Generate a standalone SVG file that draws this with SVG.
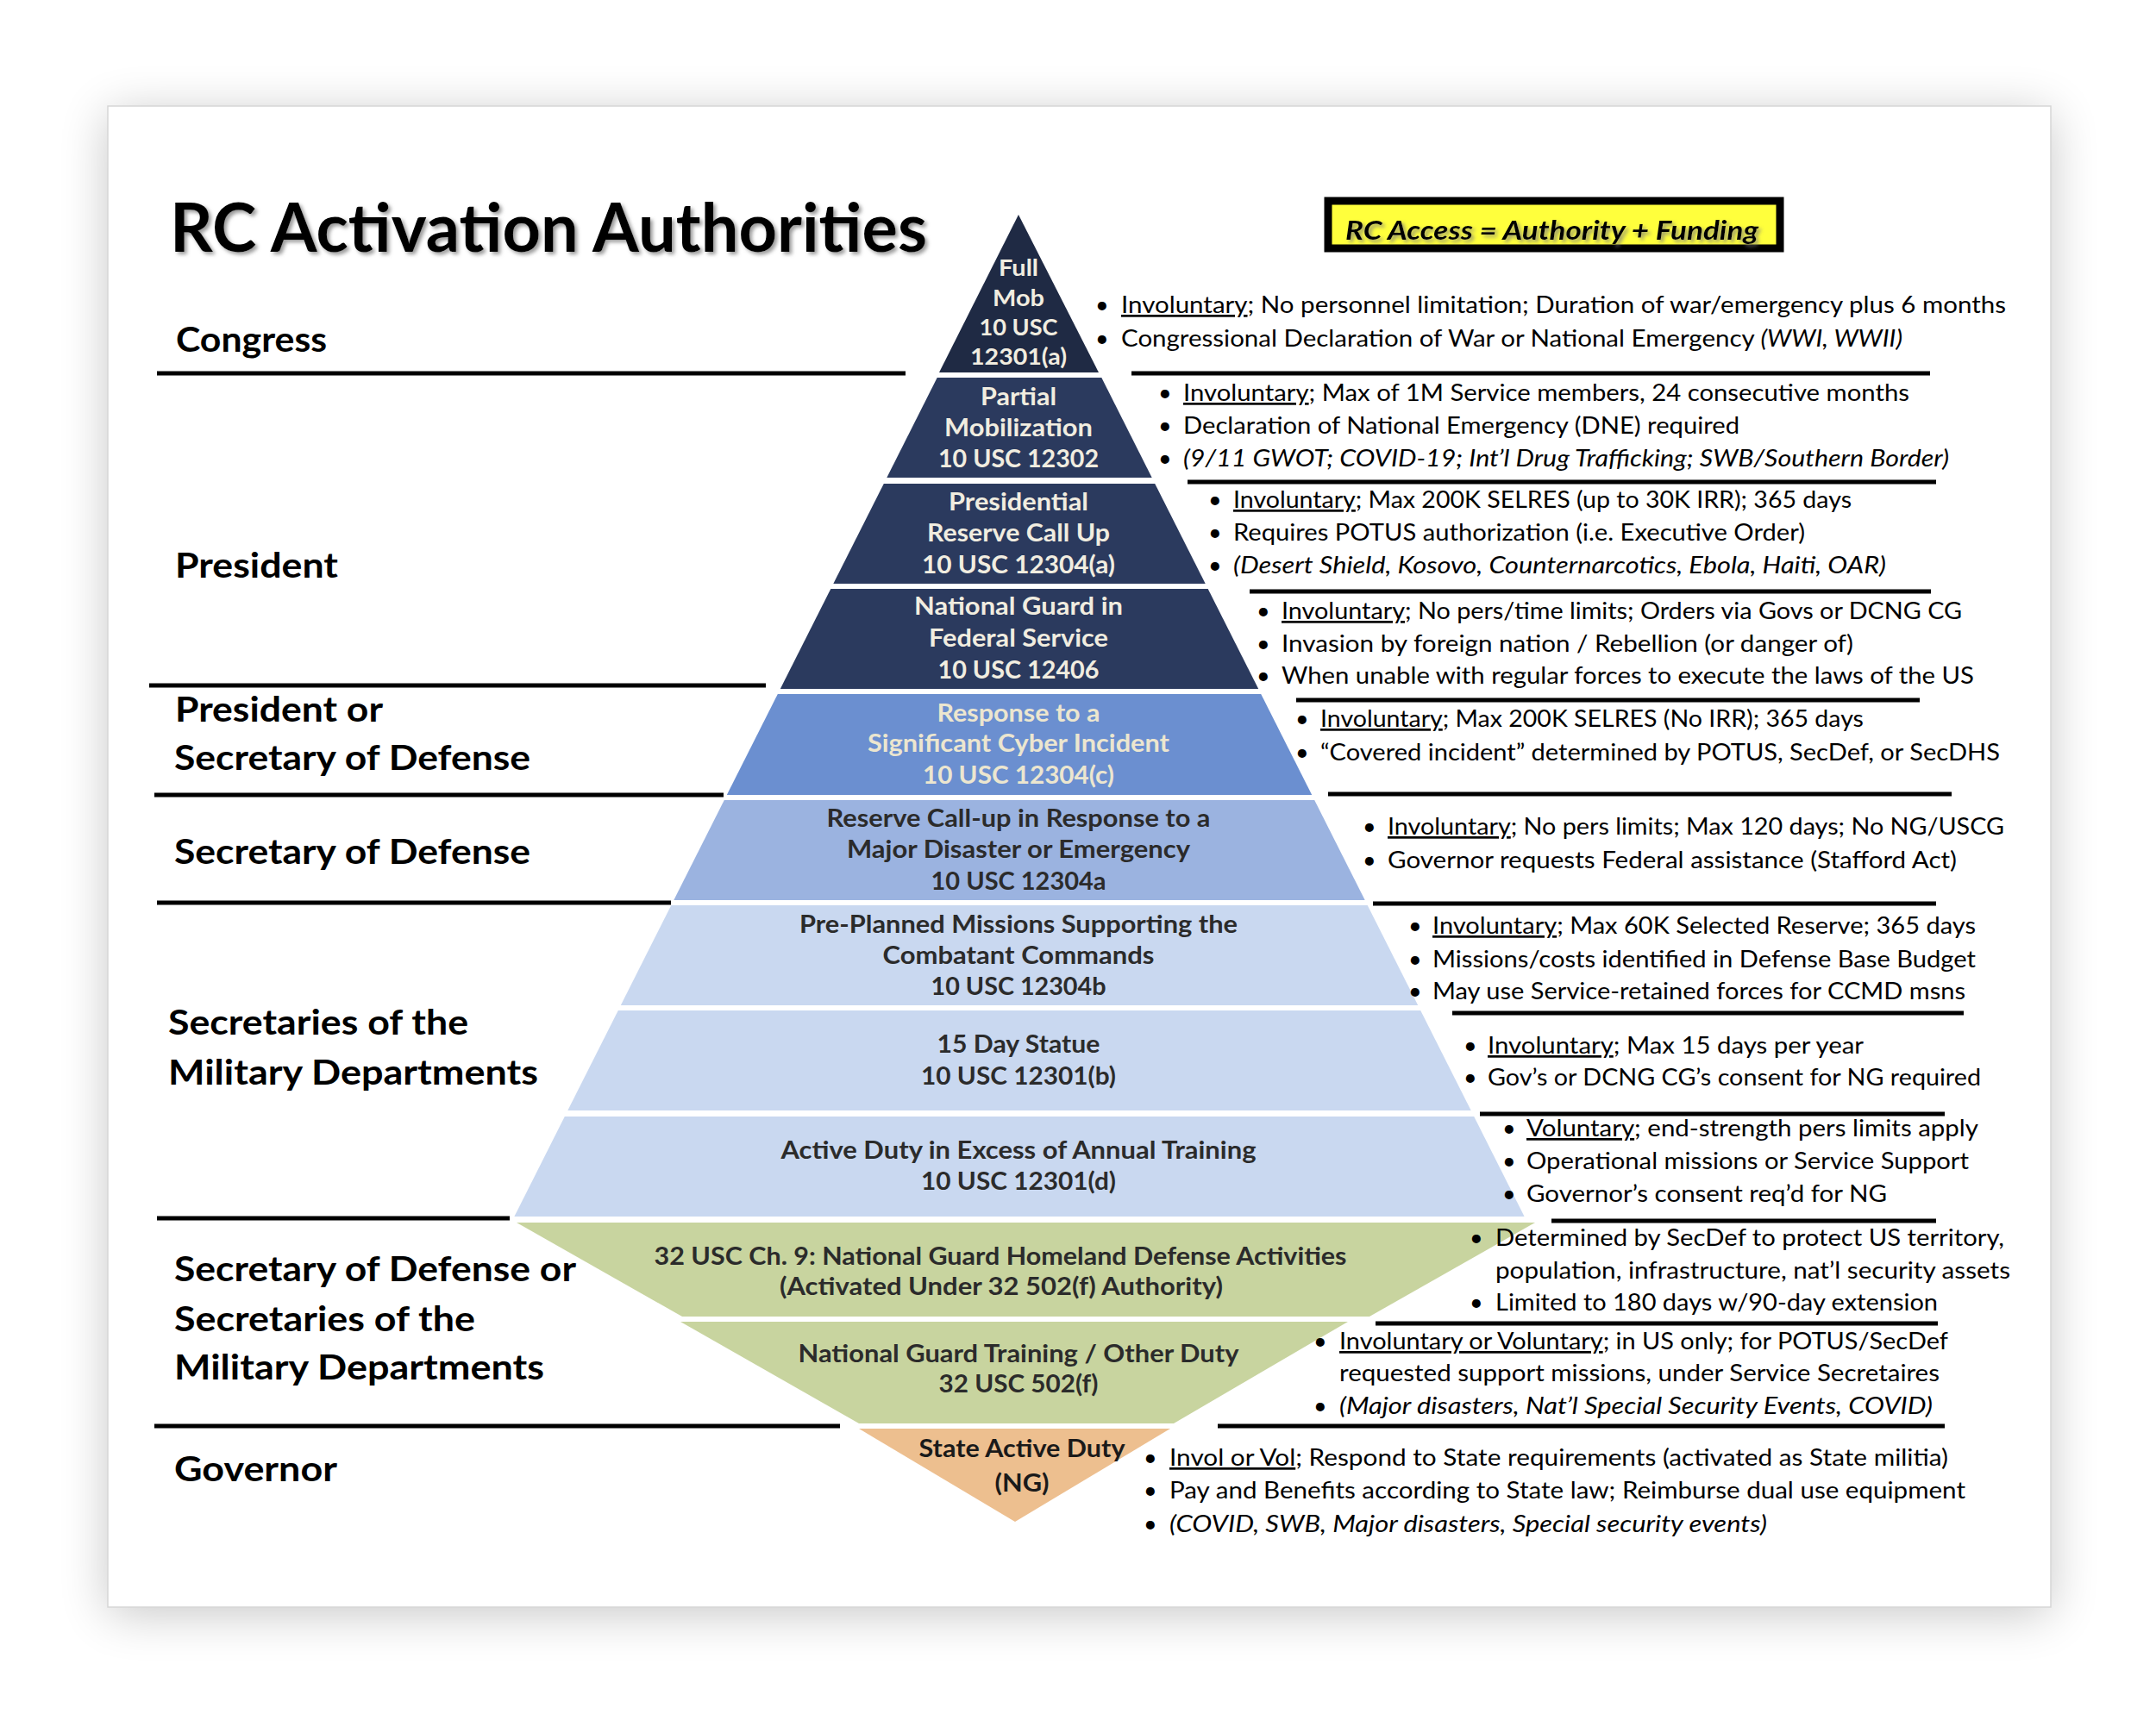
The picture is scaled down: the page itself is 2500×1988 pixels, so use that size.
<svg xmlns="http://www.w3.org/2000/svg" width="2500" height="1988" viewBox="0 0 2500 1988">
<defs>
<filter id="cardShadow" x="-10%" y="-10%" width="120%" height="120%">
<feGaussianBlur stdDeviation="28"/>
</filter>
<filter id="txtShadow" x="-5%" y="-20%" width="110%" height="140%">
<feDropShadow dx="3" dy="3" stdDeviation="2" flood-color="#7a7a7a" flood-opacity="0.75"/>
</filter>
<style>
.lbl{font-family:Lato,"Open Sans","Liberation Sans",sans-serif;font-weight:700;font-size:40px;fill:#000}
.tier{font-family:Lato,"Open Sans","Liberation Sans",sans-serif;font-weight:700;font-size:28px;text-anchor:middle}
.lt{fill:#f1ede0}
.dk{fill:#2b2b2b}
.note{font-family:Lato,"Open Sans","Liberation Sans",sans-serif;font-size:27px;fill:#000}
.bul{font-family:Lato,"Liberation Sans",sans-serif;font-size:27px;fill:#000}
.u{text-decoration:underline}
.i{font-style:italic}
.rule{stroke:#000;stroke-width:5;fill:none}
</style>
</defs>
<rect x="0" y="0" width="2500" height="1988" fill="#ffffff"/>
<rect x="125" y="131" width="2253" height="1741" fill="#000" opacity="0.22" filter="url(#cardShadow)"/>
<rect x="125" y="123" width="2253" height="1741" fill="#ffffff" stroke="#d6d6d6" stroke-width="1.5"/>

<g id="title">
<text x="197" y="292" textLength="878" lengthAdjust="spacingAndGlyphs" filter="url(#txtShadow)" style="font-family:Lato,'Open Sans','Liberation Sans',sans-serif;font-weight:700;font-size:78px;fill:#000">RC Activation Authorities</text>
</g>

<g id="access-box">
<rect x="1540" y="233" width="524" height="55" fill="#ffff3c" stroke="#000" stroke-width="9"/>
<text x="1560" y="278" textLength="479" lengthAdjust="spacingAndGlyphs" filter="url(#txtShadow)" style="font-family:Lato,'Open Sans','Liberation Sans',sans-serif;font-weight:700;font-style:italic;font-size:30px;fill:#000">RC Access = Authority + Funding</text>
</g>

<g id="authority-labels">
<text class="lbl" x="204" y="408" textLength="175" lengthAdjust="spacingAndGlyphs">Congress</text>
<text class="lbl" x="203" y="670" textLength="189" lengthAdjust="spacingAndGlyphs">President</text>
<text class="lbl" x="203" y="837" textLength="241" lengthAdjust="spacingAndGlyphs">President or</text>
<text class="lbl" x="202" y="893" textLength="413" lengthAdjust="spacingAndGlyphs">Secretary of Defense</text>
<text class="lbl" x="202" y="1002" textLength="413" lengthAdjust="spacingAndGlyphs">Secretary of Defense</text>
<text class="lbl" x="195" y="1200" textLength="348" lengthAdjust="spacingAndGlyphs">Secretaries of the</text>
<text class="lbl" x="195" y="1258" textLength="429" lengthAdjust="spacingAndGlyphs">Military Departments</text>
<text class="lbl" x="202" y="1486" textLength="466" lengthAdjust="spacingAndGlyphs">Secretary of Defense or</text>
<text class="lbl" x="202" y="1544" textLength="349" lengthAdjust="spacingAndGlyphs">Secretaries of the</text>
<text class="lbl" x="202" y="1600" textLength="429" lengthAdjust="spacingAndGlyphs">Military Departments</text>
<text class="lbl" x="202" y="1718" textLength="189" lengthAdjust="spacingAndGlyphs">Governor</text>
</g>

<g id="connectors">
<line class="rule" x1="182" y1="433" x2="1050" y2="433"/>
<line class="rule" x1="173" y1="795" x2="888" y2="795"/>
<line class="rule" x1="179" y1="922" x2="839" y2="922"/>
<line class="rule" x1="182" y1="1047" x2="778" y2="1047"/>
<line class="rule" x1="182" y1="1413" x2="591" y2="1413"/>
<line class="rule" x1="179" y1="1654" x2="974" y2="1654"/>
<line class="rule" x1="1312" y1="433" x2="2238" y2="433"/>
<line class="rule" x1="1377" y1="559" x2="2245" y2="559"/>
<line class="rule" x1="1449" y1="686" x2="2239" y2="686"/>
<line class="rule" x1="1503" y1="812" x2="2226" y2="812"/>
<line class="rule" x1="1540" y1="921" x2="2263" y2="921"/>
<line class="rule" x1="1592" y1="1048" x2="2245" y2="1048"/>
<line class="rule" x1="1684" y1="1175" x2="2277" y2="1175"/>
<line class="rule" x1="1716" y1="1292" x2="2255" y2="1292"/>
<line class="rule" x1="1799" y1="1416" x2="2245" y2="1416"/>
<line class="rule" x1="1595" y1="1535" x2="2247" y2="1535"/>
<line class="rule" x1="1412" y1="1654" x2="2255" y2="1654"/>
</g>

<g id="tier-full-mob">
<polygon points="1181,249 1274,432 1089,432" fill="#1f2a44"/>
<text class="tier lt" x="1181" y="320" style="font-size:26px" textLength="46" lengthAdjust="spacingAndGlyphs">Full</text>
<text class="tier lt" x="1181" y="355" style="font-size:26px" textLength="60" lengthAdjust="spacingAndGlyphs">Mob</text>
<text class="tier lt" x="1181" y="389" style="font-size:26px" textLength="91" lengthAdjust="spacingAndGlyphs">10 USC</text>
<text class="tier lt" x="1181" y="423" style="font-size:26px" textLength="112" lengthAdjust="spacingAndGlyphs">12301(a)</text>
</g>
<g id="tier-partial">
<polygon points="1086.7,438 1277.3,438 1335.7,554 1028.3,554" fill="#2b3a5e"/>
<text class="tier lt" x="1181" y="470" textLength="88" lengthAdjust="spacingAndGlyphs">Partial</text>
<text class="tier lt" x="1181" y="506" textLength="172" lengthAdjust="spacingAndGlyphs">Mobilization</text>
<text class="tier lt" x="1181" y="542" textLength="186" lengthAdjust="spacingAndGlyphs">10 USC 12302</text>
</g>
<g id="tier-presidential">
<polygon points="1024.8,561 1339.2,561 1397.7,677 966.3,677" fill="#2b3a5e"/>
<text class="tier lt" x="1181" y="592" textLength="162" lengthAdjust="spacingAndGlyphs">Presidential</text>
<text class="tier lt" x="1181" y="628" textLength="212" lengthAdjust="spacingAndGlyphs">Reserve Call Up</text>
<text class="tier lt" x="1181" y="665" textLength="224" lengthAdjust="spacingAndGlyphs">10 USC 12304(a)</text>
</g>
<g id="tier-ng-federal">
<polygon points="963.3,683 1400.7,683 1459.2,799 904.8,799" fill="#2b3a5e"/>
<text class="tier lt" x="1181" y="713" textLength="242" lengthAdjust="spacingAndGlyphs">National Guard in</text>
<text class="tier lt" x="1181" y="750" textLength="208" lengthAdjust="spacingAndGlyphs">Federal Service</text>
<text class="tier lt" x="1181" y="787" textLength="187" lengthAdjust="spacingAndGlyphs">10 USC 12406</text>
</g>
<g id="tier-cyber">
<polygon points="901.8,805 1462.2,805 1521.2,922 842.8,922" fill="#6b8fd0"/>
<text class="tier" x="1181" y="837" fill="#ece6cf" textLength="189" lengthAdjust="spacingAndGlyphs">Response to a</text>
<text class="tier" x="1181" y="872" fill="#ece6cf" textLength="350" lengthAdjust="spacingAndGlyphs">Significant Cyber Incident</text>
<text class="tier" x="1181" y="909" fill="#ece6cf" textLength="222" lengthAdjust="spacingAndGlyphs">10 USC 12304(c)</text>
</g>
<g id="tier-disaster">
<polygon points="839.8,928 1524.2,928 1582.7,1044 781.3,1044" fill="#9bb3e0"/>
<text class="tier dk" x="1181" y="959" textLength="445" lengthAdjust="spacingAndGlyphs">Reserve Call-up in Response to a</text>
<text class="tier dk" x="1181" y="995" textLength="398" lengthAdjust="spacingAndGlyphs">Major Disaster or Emergency</text>
<text class="tier dk" x="1181" y="1032" textLength="203" lengthAdjust="spacingAndGlyphs">10 USC 12304a</text>
</g>
<g id="tier-preplanned">
<polygon points="778.3,1050 1585.7,1050 1644.2,1166 719.8,1166" fill="#c9d8f0"/>
<text class="tier dk" x="1181" y="1082" textLength="508" lengthAdjust="spacingAndGlyphs">Pre-Planned Missions Supporting the</text>
<text class="tier dk" x="1181" y="1118" textLength="315" lengthAdjust="spacingAndGlyphs">Combatant Commands</text>
<text class="tier dk" x="1181" y="1154" textLength="203" lengthAdjust="spacingAndGlyphs">10 USC 12304b</text>
</g>
<g id="tier-15-day">
<polygon points="716.8,1172 1647.2,1172 1705.7,1288 658.3,1288" fill="#c9d8f0"/>
<text class="tier dk" x="1181" y="1221" textLength="189" lengthAdjust="spacingAndGlyphs">15 Day Statue</text>
<text class="tier dk" x="1181" y="1258" textLength="226" lengthAdjust="spacingAndGlyphs">10 USC 12301(b)</text>
</g>
<g id="tier-active-duty">
<polygon points="654.8,1295 1709.2,1295 1767.6,1411 596.4,1411" fill="#c9d8f0"/>
<text class="tier dk" x="1181" y="1344" textLength="551" lengthAdjust="spacingAndGlyphs">Active Duty in Excess of Annual Training</text>
<text class="tier dk" x="1181" y="1380" textLength="226" lengthAdjust="spacingAndGlyphs">10 USC 12301(d)</text>
</g>
<g id="tier-32usc-ch9">
<polygon points="599,1418 1780,1418 1588,1527 791,1527" fill="#c8d49f"/>
<text class="tier dk" x="1160" y="1467" textLength="803" lengthAdjust="spacingAndGlyphs">32 USC Ch. 9: National Guard Homeland Defense Activities</text>
<text class="tier dk" x="1161" y="1502" textLength="514" lengthAdjust="spacingAndGlyphs">(Activated Under 32 502(f) Authority)</text>
</g>
<g id="tier-ng-training">
<polygon points="789,1533 1563,1533 1361,1651 996,1651" fill="#c8d49f"/>
<text class="tier dk" x="1181" y="1580" textLength="511" lengthAdjust="spacingAndGlyphs">National Guard Training / Other Duty</text>
<text class="tier dk" x="1181" y="1615" textLength="185" lengthAdjust="spacingAndGlyphs">32 USC 502(f)</text>
</g>
<g id="tier-state-active-duty">
<polygon points="996,1657 1357,1657 1177,1765" fill="#edbf8f"/>
<text class="tier" x="1185" y="1690" fill="#1a1a1a" textLength="239" lengthAdjust="spacingAndGlyphs">State Active Duty</text>
<text class="tier" x="1185" y="1730" fill="#1a1a1a" textLength="63" lengthAdjust="spacingAndGlyphs">(NG)</text>
</g>

<g id="notes-full-mob">
<text class="bul" x="1270" y="363">•</text>
<text class="note" x="1300" y="363" textLength="1026" lengthAdjust="spacingAndGlyphs"><tspan class="u">Involuntary</tspan>; No personnel limitation; Duration of war/emergency plus 6 months</text>
<text class="bul" x="1270" y="402">•</text>
<text class="note" x="1300" y="402" textLength="906" lengthAdjust="spacingAndGlyphs">Congressional Declaration of War or National Emergency <tspan class="i">(WWI, WWII)</tspan></text>
</g>
<g id="notes-partial">
<text class="bul" x="1343" y="465">•</text>
<text class="note" x="1372" y="465" textLength="842" lengthAdjust="spacingAndGlyphs"><tspan class="u">Involuntary</tspan>; Max of 1M Service members, 24 consecutive months</text>
<text class="bul" x="1343" y="503">•</text>
<text class="note" x="1372" y="503" textLength="645" lengthAdjust="spacingAndGlyphs">Declaration of National Emergency (DNE) required</text>
<text class="bul" x="1343" y="541">•</text>
<text class="note i" x="1372" y="541" textLength="888" lengthAdjust="spacingAndGlyphs">(9/11 GWOT; COVID-19; Int’l Drug Trafficking; SWB/Southern Border)</text>
</g>
<g id="notes-presidential">
<text class="bul" x="1401" y="589">•</text>
<text class="note" x="1430" y="589" textLength="717" lengthAdjust="spacingAndGlyphs"><tspan class="u">Involuntary</tspan>; Max 200K SELRES (up to 30K IRR); 365 days</text>
<text class="bul" x="1401" y="627">•</text>
<text class="note" x="1430" y="627" textLength="663" lengthAdjust="spacingAndGlyphs">Requires POTUS authorization (i.e. Executive Order)</text>
<text class="bul" x="1401" y="665">•</text>
<text class="note i" x="1430" y="665" textLength="757" lengthAdjust="spacingAndGlyphs">(Desert Shield, Kosovo, Counternarcotics, Ebola, Haiti, OAR)</text>
</g>
<g id="notes-ng-federal">
<text class="bul" x="1457" y="718">•</text>
<text class="note" x="1486" y="718" textLength="789" lengthAdjust="spacingAndGlyphs"><tspan class="u">Involuntary</tspan>; No pers/time limits; Orders via Govs or DCNG CG</text>
<text class="bul" x="1457" y="756">•</text>
<text class="note" x="1486" y="756" textLength="663" lengthAdjust="spacingAndGlyphs">Invasion by foreign nation / Rebellion (or danger of)</text>
<text class="bul" x="1457" y="793">•</text>
<text class="note" x="1486" y="793" textLength="803" lengthAdjust="spacingAndGlyphs">When unable with regular forces to execute the laws of the US</text>
</g>
<g id="notes-cyber">
<text class="bul" x="1502" y="843">•</text>
<text class="note" x="1531" y="843" textLength="630" lengthAdjust="spacingAndGlyphs"><tspan class="u">Involuntary</tspan>; Max 200K SELRES (No IRR); 365 days</text>
<text class="bul" x="1502" y="882">•</text>
<text class="note" x="1531" y="882" textLength="788" lengthAdjust="spacingAndGlyphs">“Covered incident” determined by POTUS, SecDef, or SecDHS</text>
</g>
<g id="notes-disaster">
<text class="bul" x="1580" y="968">•</text>
<text class="note" x="1609" y="968" textLength="715" lengthAdjust="spacingAndGlyphs"><tspan class="u">Involuntary</tspan>; No pers limits; Max 120 days; No NG/USCG</text>
<text class="bul" x="1580" y="1007">•</text>
<text class="note" x="1609" y="1007" textLength="660" lengthAdjust="spacingAndGlyphs">Governor requests Federal assistance (Stafford Act)</text>
</g>
<g id="notes-preplanned">
<text class="bul" x="1633" y="1083">•</text>
<text class="note" x="1661" y="1083" textLength="630" lengthAdjust="spacingAndGlyphs"><tspan class="u">Involuntary</tspan>; Max 60K Selected Reserve; 365 days</text>
<text class="bul" x="1633" y="1122">•</text>
<text class="note" x="1661" y="1122" textLength="630" lengthAdjust="spacingAndGlyphs">Missions/costs identified in Defense Base Budget</text>
<text class="bul" x="1633" y="1159">•</text>
<text class="note" x="1661" y="1159" textLength="618" lengthAdjust="spacingAndGlyphs">May use Service-retained forces for CCMD msns</text>
</g>
<g id="notes-15-day">
<text class="bul" x="1697" y="1222">•</text>
<text class="note" x="1725" y="1222" textLength="436" lengthAdjust="spacingAndGlyphs"><tspan class="u">Involuntary</tspan>; Max 15 days per year</text>
<text class="bul" x="1697" y="1259">•</text>
<text class="note" x="1725" y="1259" textLength="572" lengthAdjust="spacingAndGlyphs">Gov’s or DCNG CG’s consent for NG required</text>
</g>
<g id="notes-active-duty">
<text class="bul" x="1742" y="1318">•</text>
<text class="note" x="1770" y="1318" textLength="524" lengthAdjust="spacingAndGlyphs"><tspan class="u">Voluntary</tspan>; end-strength pers limits apply</text>
<text class="bul" x="1742" y="1356">•</text>
<text class="note" x="1770" y="1356" textLength="513" lengthAdjust="spacingAndGlyphs">Operational missions or Service Support</text>
<text class="bul" x="1742" y="1394">•</text>
<text class="note" x="1770" y="1394" textLength="418" lengthAdjust="spacingAndGlyphs">Governor’s consent req’d for NG</text>
</g>
<g id="notes-32usc-ch9">
<text class="bul" x="1704" y="1445">•</text>
<text class="note" x="1734" y="1445" textLength="590" lengthAdjust="spacingAndGlyphs">Determined by SecDef to protect US territory,</text>
<text class="note" x="1734" y="1483" textLength="597" lengthAdjust="spacingAndGlyphs">population, infrastructure, nat’l security assets</text>
<text class="bul" x="1704" y="1520">•</text>
<text class="note" x="1734" y="1520" textLength="513" lengthAdjust="spacingAndGlyphs">Limited to 180 days w/90-day extension</text>
</g>
<g id="notes-ng-training">
<text class="bul" x="1523" y="1565">•</text>
<text class="note" x="1553" y="1565" textLength="706" lengthAdjust="spacingAndGlyphs"><tspan class="u">Involuntary or Voluntary</tspan>; in US only; for POTUS/SecDef</text>
<text class="note" x="1553" y="1602" textLength="696" lengthAdjust="spacingAndGlyphs">requested support missions, under Service Secretaires</text>
<text class="bul" x="1523" y="1640">•</text>
<text class="note i" x="1553" y="1640" textLength="688" lengthAdjust="spacingAndGlyphs">(Major disasters, Nat’l Special Security Events, COVID)</text>
</g>
<g id="notes-state-active-duty">
<text class="bul" x="1326" y="1700">•</text>
<text class="note" x="1356" y="1700" textLength="903" lengthAdjust="spacingAndGlyphs"><tspan class="u">Invol or Vol</tspan>; Respond to State requirements (activated as State militia)</text>
<text class="bul" x="1326" y="1738">•</text>
<text class="note" x="1356" y="1738" textLength="923" lengthAdjust="spacingAndGlyphs">Pay and Benefits according to State law; Reimburse dual use equipment</text>
<text class="bul" x="1326" y="1777">•</text>
<text class="note i" x="1356" y="1777" textLength="693" lengthAdjust="spacingAndGlyphs">(COVID, SWB, Major disasters, Special security events)</text>
</g>
</svg>
